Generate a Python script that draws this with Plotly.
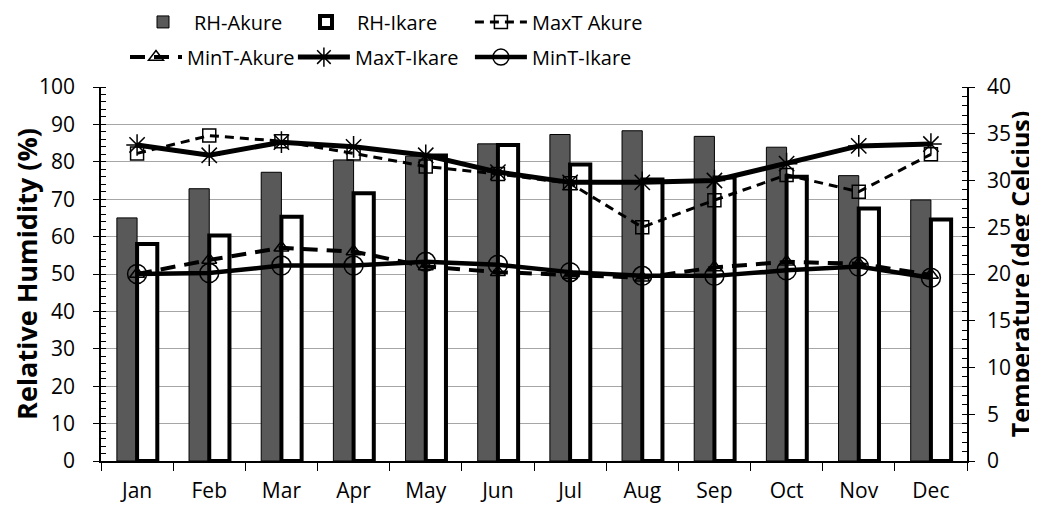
import plotly.graph_objects as go
from plotly.subplots import make_subplots

months = ["Jan", "Feb", "Mar", "Apr", "May", "Jun", "Jul", "Aug", "Sep", "Oct", "Nov", "Dec"]
rh_akure = [65.0, 72.8, 77.2, 80.5, 81.5, 84.8, 87.3, 88.3, 86.8, 83.9, 76.3, 69.8]
rh_ikare = [58.0, 60.3, 65.3, 71.6, 81.7, 84.5, 79.3, 75.3, 75.8, 76.0, 67.5, 64.6]
maxt_akure = [32.9, 34.8, 34.2, 32.9, 31.5, 30.7, 29.7, 25.0, 27.9, 30.6, 28.8, 32.8]
mint_akure = [20.0, 21.5, 22.8, 22.4, 20.8, 20.2, 19.9, 19.6, 20.7, 21.3, 21.1, 19.9]
maxt_ikare = [33.8, 32.7, 34.1, 33.6, 32.7, 30.9, 29.8, 29.8, 30.0, 31.8, 33.7, 33.9]
mint_ikare = [20.0, 20.1, 20.9, 20.9, 21.3, 21.0, 20.2, 19.8, 19.8, 20.4, 20.8, 19.6]

FONT = "Open Sans, sans-serif"
TICK = 21
LEG = 20

fig = make_subplots(specs=[[{"secondary_y": True}]])

fig.add_trace(go.Bar(x=months, y=rh_akure, name="RH-Akure", legend="legend",
                     marker=dict(color="#595959", line=dict(color="black", width=1))),
              secondary_y=False)
fig.add_trace(go.Bar(x=months, y=rh_ikare, name="RH-Ikare", legend="legend2",
                     marker=dict(color="white", line=dict(color="black", width=4))),
              secondary_y=False)
fig.add_trace(go.Scatter(x=months, y=maxt_akure, name="MaxT Akure", mode="lines+markers",
                         legend="legend3",
                         line=dict(color="black", width=3, dash="9px,6px"),
                         marker=dict(symbol="square-open", size=13, color="black",
                                     line=dict(width=1.5))),
              secondary_y=True)
fig.add_trace(go.Scatter(x=months, y=mint_akure, name="MinT-Akure", mode="lines+markers",
                         legend="legend4",
                         line=dict(color="black", width=4, dash="15px,9px"),
                         marker=dict(symbol="triangle-up-open", size=13, color="black",
                                     line=dict(width=1.5))),
              secondary_y=True)
fig.add_trace(go.Scatter(x=months, y=maxt_ikare, name="MaxT-Ikare", mode="lines+markers",
                         legend="legend5",
                         line=dict(color="black", width=5),
                         marker=dict(symbol="asterisk-open", size=18, color="black",
                                     line=dict(width=1.5, color="black"))),
              secondary_y=True)
fig.add_trace(go.Scatter(x=months, y=mint_ikare, name="MinT-Ikare", mode="lines+markers",
                         legend="legend6",
                         line=dict(color="black", width=4.5),
                         marker=dict(symbol="circle-open", size=19, color="black",
                                     line=dict(width=1.5))),
              secondary_y=True)

leg_common = dict(orientation="h", xanchor="left", yanchor="middle", itemwidth=52,
                  font=dict(family=FONT, size=LEG), bgcolor="rgba(0,0,0,0)")

# page body has an 8px default margin; figure sized to fit the 1037x505 window
fig.update_layout(
    width=1029, height=497,
    margin=dict(l=93, r=70, t=79, b=44, autoexpand=False),
    paper_bgcolor="white", plot_bgcolor="white",
    font=dict(family=FONT, size=TICK, color="black"),
    barmode="group", bargap=0.44, bargroupgap=0,
    showlegend=True,
    legend=dict(x=0.0358, y=1.174, **leg_common),
    legend2=dict(x=0.2240, y=1.174, **leg_common),
    legend3=dict(x=0.4260, y=1.174, **leg_common),
    legend4=dict(x=0.0277, y=1.080, **leg_common),
    legend5=dict(x=0.2216, y=1.080, **leg_common),
    legend6=dict(x=0.4260, y=1.080, **leg_common),
)

fig.update_xaxes(domain=[0, 1], range=[-0.5, 11.5], showline=True, linecolor="black",
                 linewidth=1.5, mirror=False,
                 ticks="outside", ticklen=8, tickcolor="black", tickson="boundaries",
                 showgrid=False, automargin=False, ticklabelstandoff=10,
                 tickfont=dict(size=TICK, family=FONT))

fig.update_yaxes(range=[0, 100], dtick=10, showline=True, linecolor="black", linewidth=1.5,
                 ticks="outside", ticklen=6, tickcolor="black",
                 minor=dict(dtick=2, ticks="inside", ticklen=5, tickcolor="black", showgrid=False),
                 showgrid=True, gridcolor="#a6a6a6", gridwidth=1,
                 automargin=False, ticklabelstandoff=14,
                 title=dict(text="<b>Relative Humidity (%)</b>", font=dict(size=27, family=FONT),
                            standoff=4),
                 tickfont=dict(size=TICK, family=FONT), zeroline=False,
                 secondary_y=False)
fig.update_yaxes(range=[0, 40], dtick=5, showline=True, linecolor="black", linewidth=1.5,
                 ticks="outside", ticklen=6, tickcolor="black",
                 minor=dict(dtick=1, ticks="inside", ticklen=5, tickcolor="black", showgrid=False),
                 showgrid=False, automargin=False, ticklabelstandoff=8,
                 title=dict(text="<b>Temperature (deg Celcius)</b>", font=dict(size=25, family=FONT),
                            standoff=2),
                 tickfont=dict(size=TICK, family=FONT), zeroline=False,
                 secondary_y=True)

fig.write_html("out.html")
